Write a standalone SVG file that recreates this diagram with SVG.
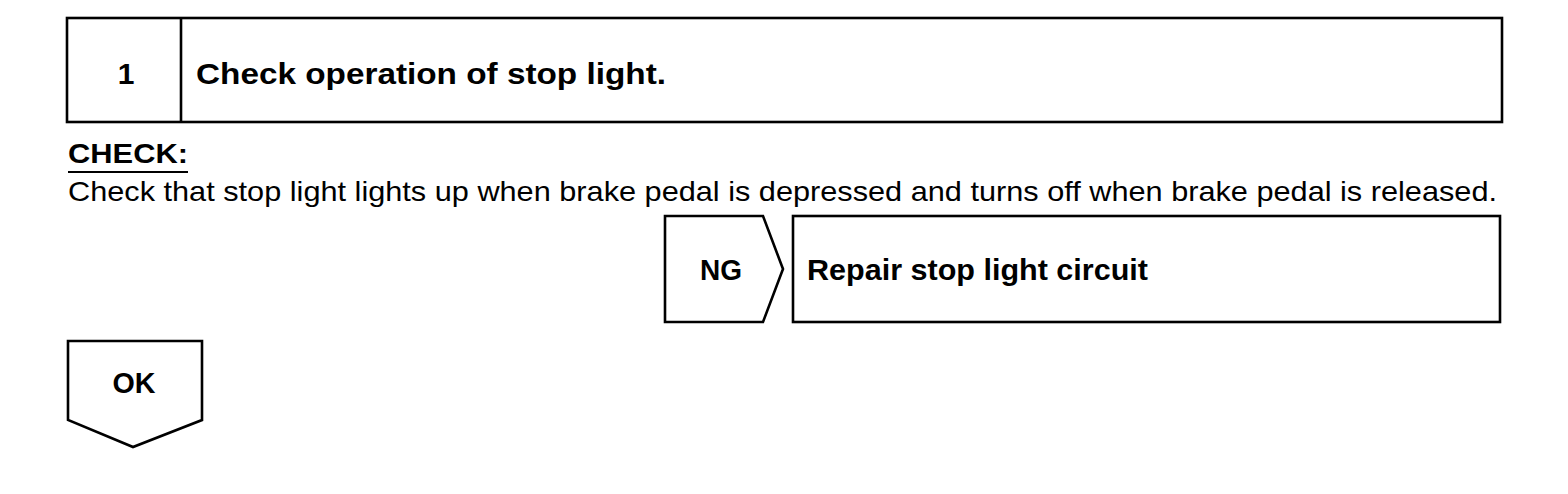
<svg xmlns="http://www.w3.org/2000/svg" width="1568" height="494" viewBox="0 0 1568 494">
<style>
.box{fill:none;stroke:#000;stroke-width:2.6}
.b{font-family:"Liberation Sans",Arial,sans-serif;font-weight:bold;fill:#000}
.r{font-family:"Liberation Sans",Arial,sans-serif;fill:#000}
</style>
<rect width="1568" height="494" fill="#fff"/>
<g id="step1">
<rect class="box" x="67" y="18" width="1435" height="104"/>
<line class="box" x1="181" y1="18" x2="181" y2="122"/>
<text class="b" x="126" y="84" font-size="30" text-anchor="middle">1</text>
<text class="b" x="196" y="84" font-size="30" textLength="470" lengthAdjust="spacingAndGlyphs">Check operation of stop light.</text>
</g>
<g id="check">
<text class="b" x="68" y="163" font-size="28" textLength="120" lengthAdjust="spacingAndGlyphs">CHECK:</text>
<line x1="68" y1="172" x2="188" y2="172" stroke="#000" stroke-width="2"/>
<text class="r" x="68" y="201" font-size="28" textLength="1429" lengthAdjust="spacingAndGlyphs">Check that stop light lights up when brake pedal is depressed and turns off when brake pedal is released.</text>
</g>
<g id="ng">
<path class="box" d="M665,216 H763 L783,269 L763,322 H665 Z"/>
<text class="b" x="721" y="280" font-size="29" text-anchor="middle" textLength="42" lengthAdjust="spacingAndGlyphs">NG</text>
</g>
<g id="repair">
<rect class="box" x="793" y="216" width="707" height="106"/>
<text class="b" x="807" y="280" font-size="29" textLength="341" lengthAdjust="spacingAndGlyphs">Repair stop light circuit</text>
</g>
<g id="ok">
<path class="box" d="M68,341 H202 V420 L133,447 L68,420 Z"/>
<text class="b" x="134" y="393" font-size="29" text-anchor="middle" textLength="43" lengthAdjust="spacingAndGlyphs">OK</text>
</g>
<g id="connectors"></g>
</svg>
